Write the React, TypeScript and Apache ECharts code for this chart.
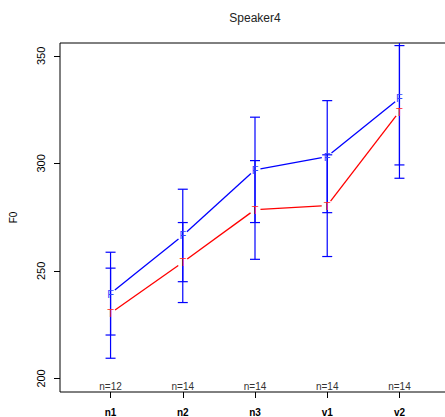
import React, { useEffect, useRef } from "react";
import * as echarts from "echarts";

const categories = ["n1", "n2", "n3", "v1", "v2"];
const counts = [12, 14, 14, 14, 14];
const meanF = [239.5, 266.5, 297, 303.2, 330.3];
const lowerF = [220.2, 245, 272.5, 277.1, 299.3];
const upperF = [258.7, 288, 321.5, 329.2, 361.3];
const meanT = [230.4, 254, 278.5, 280.4, 324.1];
const lowerT = [209.4, 235.3, 255.4, 256.7, 293.1];
const upperT = [251.3, 272.5, 301.3, 304, 354.8];
const yTicks = [200, 250, 300, 350];
const yMin = 193.7;
const yMax = 356;

const FONT = "'Liberation Sans', Arial, Helvetica, sans-serif";

function segments(means: number[]) {
  const out: number[][] = [];
  for (let i = 1; i < means.length; i++) out.push([i, means[i - 1], i + 1, means[i]]);
  return out;
}

function lineSeries(means: number[], color: string) {
  return {
    type: "custom",
    data: segments(means),
    encode: { x: [0, 2], y: [1, 3] },
    silent: true,
    z: 3,
    renderItem: (params: any, api: any) => {
      const p0 = api.coord([api.value(0), api.value(1)]);
      const p1 = api.coord([api.value(2), api.value(3)]);
      const dx = p1[0] - p0[0];
      const dy = p1[1] - p0[1];
      const len = Math.sqrt(dx * dx + dy * dy);
      const g = 5.5;
      const ux = dx / len;
      const uy = dy / len;
      return {
        type: "line",
        shape: { x1: p0[0] + ux * g, y1: p0[1] + uy * g, x2: p1[0] - ux * g, y2: p1[1] - uy * g },
        style: { stroke: color, lineWidth: 1.3 },
      };
    },
  };
}

function barSeries(lower: number[], upper: number[]) {
  return {
    type: "custom",
    data: lower.map((l, i) => [i + 1, l, upper[i]]),
    encode: { x: 0, y: [1, 2] },
    silent: true,
    z: 2,
    renderItem: (params: any, api: any) => {
      const x = api.value(0);
      const lo = api.coord([x, api.value(1)]);
      const hi = api.coord([x, api.value(2)]);
      const top = params.coordSys.y;
      const children: any[] = [];
      const hy = Math.max(hi[1], top);
      const st = { stroke: "#0000ff", lineWidth: 1.2 };
      children.push({ type: "line", shape: { x1: lo[0], y1: lo[1], x2: lo[0], y2: hy }, style: st });
      children.push({ type: "line", shape: { x1: lo[0] - 5, y1: lo[1], x2: lo[0] + 5, y2: lo[1] }, style: st });
      if (hi[1] >= top) {
        children.push({ type: "line", shape: { x1: hi[0] - 5, y1: hi[1], x2: hi[0] + 5, y2: hi[1] }, style: st });
      }
      return { type: "group", children };
    },
  };
}

function letterSeries(means: number[], letter: string, color: string) {
  return {
    type: "custom",
    data: means.map((m, i) => [i + 1, m]),
    encode: { x: 0, y: 1 },
    silent: true,
    z: 4,
    renderItem: (params: any, api: any) => {
      const p = api.coord([api.value(0), api.value(1)]);
      return {
        type: "text",
        x: p[0],
        y: p[1],
        style: {
          text: letter,
          fill: color,
          font: `11px ${FONT}`,
          textAlign: "center",
          textVerticalAlign: "middle",
        },
      };
    },
  };
}

export default function App() {
  const ref = useRef<HTMLDivElement>(null);
  useEffect(() => {
    document.body.style.margin = "0";
    document.body.style.overflow = "hidden";
    document.documentElement.style.overflow = "hidden";
    const chart = echarts.init(ref.current!, null, { renderer: "svg" });
    chart.setOption({
      animation: false,
      backgroundColor: "#ffffff",
      grid: {
        left: 60,
        top: 43,
        right: -5,
        bottom: 25,
        outerBoundsMode: "none",
        containLabel: false,
        show: true,
        borderColor: "#000",
        borderWidth: 1,
        backgroundColor: "transparent",
      },
      graphic: [
        {
          type: "text",
          x: 255,
          y: 18,
          style: {
            text: "Speaker4",
            font: `12px ${FONT}`,
            fill: "#222",
            textAlign: "center",
            textVerticalAlign: "middle",
          },
        },
      ],
      xAxis: {
        type: "value",
        min: 0.3,
        max: 5.7,
        axisLine: { show: false },
        splitLine: { show: false },
        axisTick: { show: true, length: 6, customValues: [1, 2, 3, 4, 5], lineStyle: { color: "#000" } },
        axisLabel: {
          customValues: [1, 2, 3, 4, 5],
          formatter: (v: number) => categories[Math.round(v) - 1] ?? "",
          fontWeight: "bold",
          fontSize: 10,
          fontFamily: FONT,
          color: "#000",
          margin: 15,
        },
      },
      yAxis: {
        type: "value",
        min: yMin,
        max: yMax,
        name: "F0",
        nameLocation: "middle",
        nameGap: 42,
        nameRotate: 90,
        nameTextStyle: { fontSize: 10, fontFamily: FONT, color: "#000" },
        axisLine: { show: false },
        splitLine: { show: false },
        axisTick: { show: true, length: 6, customValues: yTicks, lineStyle: { color: "#000" } },
        axisLabel: {
          customValues: yTicks,
          rotate: 90,
          fontSize: 11,
          fontFamily: FONT,
          color: "#000",
          margin: 14,
        },
      },
      series: [
        lineSeries(meanF, "#0000ff"),
        lineSeries(meanT, "#ff0000"),
        barSeries(lowerF, upperF),
        barSeries(lowerT, upperT),
        letterSeries(meanF, "F", "#3344ff"),
        letterSeries(meanT, "T", "#ff2222"),
        {
          type: "custom",
          data: counts.map((c, i) => [i + 1, yMin, c]),
          encode: { x: 0, y: 1 },
          silent: true,
          z: 4,
          renderItem: (params: any, api: any) => {
            const p = api.coord([api.value(0), api.value(1)]);
            return {
              type: "text",
              x: p[0],
              y: p[1] - 6,
              style: {
                text: "n=" + api.value(2),
                fill: "#333",
                font: `10px ${FONT}`,
                textAlign: "center",
                textVerticalAlign: "middle",
              },
            };
          },
        },
      ],
    });
    return () => chart.dispose();
  }, []);
  return <div ref={ref} style={{ width: 445, height: 417 }} />;
}
